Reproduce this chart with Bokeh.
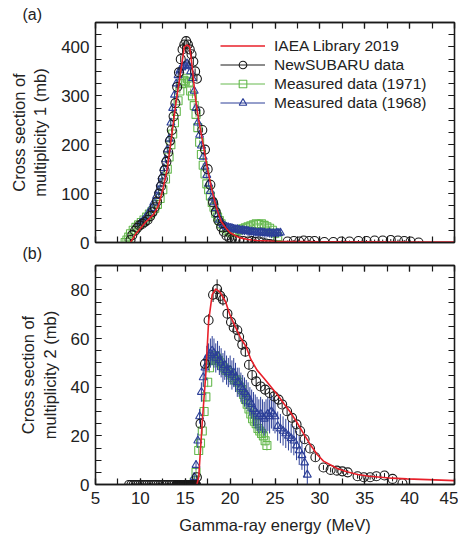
from bokeh.plotting import figure
from bokeh.models import LinearAxis, SingleIntervalTicker, Legend, LegendItem, Title
from bokeh.layouts import column
from bokeh.embed import file_html
from bokeh.resources import INLINE

FONT = "Liberation Sans"
RED = "#e8202a"
BLACK = "#1a1a1a"
GREEN = "#66b94f"
BLUE = "#2c3f98"

# ---------------- Panel (a): multiplicity 1 ----------------
E_iaea1 = [8.9, 9.5, 10.5, 11.5, 12.0, 12.5, 13.0, 13.5, 14.0, 14.5, 14.9, 15.2, 15.5, 15.8, 16.1,
           16.5, 17.0, 17.5, 18.0, 18.5, 19.0, 19.5, 20.0, 21.0, 22.0, 23.0, 25.0, 30.0, 35.0, 40.0, 45.0]
s_iaea1 = [0, 18, 40, 58, 75, 108, 151, 220, 290, 350, 400, 404, 400, 355, 300,
           250, 200, 148, 105, 70, 43, 30, 20, 10, 6, 4, 2.5, 1.5, 1.2, 1, 1]

E_ns1 = [8.9, 9.1, 9.4, 9.65, 9.9, 10.2, 10.5, 10.8, 11.1, 11.35, 11.6, 11.85, 12.1, 12.3, 12.5,
         12.7, 12.9, 13.1, 13.3, 13.5, 13.7, 13.9, 14.1, 14.3, 14.5, 14.7, 14.9, 15.1, 15.3, 15.5,
         15.7, 15.9, 16.1, 16.3, 16.6, 16.9, 17.2, 17.5, 17.8, 18.1, 18.4, 18.7, 19.0, 19.3, 19.6,
         19.9, 20.2, 20.6, 21.0, 21.5, 22.0, 22.4, 22.8, 23.2, 23.6, 24.0, 24.4, 24.8,
         26.4, 27.1, 27.7, 28.2, 28.8, 29.4, 30.5, 31.5, 32.4, 33.3, 34.3, 35.2, 36.1, 37.0, 37.9,
         38.7, 39.4, 40.1, 41.0]
s_ns1 = [5, 15, 24, 30, 35, 38, 42, 46, 54, 62, 72, 84, 100, 115, 130,
         148, 165, 185, 208, 230, 258, 285, 318, 348, 375, 395, 405, 412, 405, 395,
         385, 370, 350, 335, 268, 230, 190, 150, 118, 82, 62, 45, 32, 22, 14,
         10, 7, 5, 4, 3, 2, 3, 1, 2, 0, -2, -3, -4,
         2, 3, 2, 4, 3, 3, 1, 1, 2, 2, 3, 3, 4, 4, 5,
         4, 3, 2, 0]
e_ns1 = [2, 2, 2, 2, 2, 2, 2, 2, 2, 2, 3, 3, 3, 3, 4,
         4, 4, 5, 5, 5, 6, 6, 6, 7, 7, 8, 8, 10, 8, 8,
         7, 7, 6, 6, 6, 5, 5, 4, 4, 3, 3, 3, 2, 2, 2,
         2, 2, 2, 2, 2, 2, 2, 2, 2, 2, 2, 2, 2,
         2, 2, 2, 2, 2, 2, 2, 2, 2, 2, 2, 2, 2, 2, 2,
         2, 2, 2, 2]

E_m71_1 = [8.3, 8.5, 8.7, 8.9, 9.2, 9.5, 9.8, 10.1, 10.4, 10.7, 11.0, 11.3, 11.6, 11.9, 12.2,
           12.5, 12.8, 13.0, 13.2, 13.4, 13.6, 13.8, 14.0, 14.2, 14.4, 14.6, 14.8, 15.0, 15.2, 15.4,
           15.6, 15.8, 16.0, 16.2, 16.4, 16.6, 16.8, 17.0, 17.2, 17.4, 17.6, 17.8, 18.0, 18.2, 18.4,
           18.6, 18.8, 19.0, 19.3, 19.6, 19.9, 20.2, 20.5, 20.8, 21.1, 21.4, 21.7, 22.0, 22.3, 22.6,
           22.9, 23.2, 23.5, 23.8, 24.1, 24.4, 24.7, 25.0, 25.3]
s_m71_1 = [0, 5, 11, 18, 25, 31, 36, 41, 46, 52, 58, 64, 70, 78, 90,
           108, 130, 150, 175, 200, 222, 245, 268, 290, 310, 325, 332, 330, 336, 328,
           310, 300, 280, 262, 235, 205, 180, 158, 140, 120, 108, 95, 82, 72, 60,
           52, 45, 38, 30, 25, 22, 20, 22, 24, 26, 28, 30, 32, 34, 36,
           38, 37, 38, 35, 32, 29, 25, 19, 12]
e_m71_1 = [2, 2, 2, 2, 2, 2, 2, 2, 2, 2, 2, 2, 3, 3, 3,
           3, 3, 4, 4, 4, 4, 5, 5, 5, 5, 5, 5, 5, 5, 5,
           5, 5, 5, 5, 4, 4, 4, 4, 4, 3, 3, 3, 3, 3, 3,
           3, 3, 3, 3, 3, 3, 3, 3, 3, 3, 3, 3, 3, 3, 3,
           3, 3, 3, 3, 3, 3, 3, 3, 3]

E_m68_1 = [10.0, 10.3, 10.6, 10.9, 11.2, 11.5, 11.8, 12.0, 12.2, 12.4, 12.6, 12.8, 13.0, 13.2, 13.4,
           13.6, 13.8, 14.0, 14.2, 14.4, 14.6, 14.8, 15.0, 15.2, 15.4, 15.6, 15.8, 16.0, 16.2, 16.4,
           16.6, 16.8, 17.0, 17.2, 17.4, 17.6, 17.8, 18.0, 18.2, 18.4, 18.6, 18.8, 19.0, 19.2, 19.4,
           19.6, 19.8, 20.0, 20.2, 20.4, 20.6, 20.8, 21.0, 21.2, 21.4, 21.6, 21.8, 22.0, 22.2, 22.4,
           22.6, 22.8, 23.0, 23.2, 23.4, 23.6, 23.8, 24.0, 24.2, 24.4, 24.6, 24.8, 25.0, 25.2, 25.4,
           25.6]
s_m68_1 = [40, 45, 52, 60, 70, 82, 95, 106, 120, 135, 152, 170, 190, 212, 245,
           275, 302, 325, 342, 352, 358, 360, 362, 366, 362, 350, 336, 310, 275, 245,
           220, 198, 175, 155, 138, 120, 105, 92, 82, 70, 57, 46, 40, 36, 34,
           32, 31, 30, 29, 28, 27, 27, 26, 25, 25, 24, 24, 23, 22, 22,
           21, 21, 20, 20, 21, 20, 20, 19, 19, 20, 18, 19, 18, 20, 19,
           20]
e_m68_1 = [4, 4, 4, 4, 5, 5, 5, 6, 6, 6, 7, 7, 7, 8, 8,
           8, 9, 9, 9, 10, 10, 10, 10, 10, 10, 10, 9, 9, 9, 8,
           8, 8, 7, 7, 7, 6, 6, 6, 6, 6, 6, 7, 8, 9, 8,
           10, 9, 8, 10, 9, 8, 10, 9, 8, 10, 9, 8, 10, 9, 8,
           10, 9, 8, 10, 9, 8, 10, 9, 8, 10, 9, 8, 10, 9, 8,
           8]

# ---------------- Panel (b): multiplicity 2 ----------------
E_iaea2 = [16.3, 16.5, 16.9, 17.3, 17.6, 18.0, 18.4, 18.9, 19.5, 20.0, 20.6, 21.2, 21.8, 22.3, 23.0,
           23.75, 24.5, 25.25, 26.0, 26.7, 27.4, 28.2, 29.0, 29.7, 30.4, 31.2, 32.0, 33.0, 34.2, 35.5,
           36.8, 38.0, 39.7, 42.0, 45.0]
s_iaea2 = [0, 3, 26, 46, 67, 78, 80.4, 79, 75, 69.5, 64.7, 60, 56.5, 51.5, 47,
           43.8, 40.4, 37, 33.2, 29.8, 25.8, 20.8, 16, 12.3, 9.6, 8, 6.5, 5.2, 4.1, 3.4,
           3, 2.6, 2.3, 2.0, 1.6]

E_ns2_low = [8.7, 8.95, 9.2, 9.45, 9.7, 9.95, 10.2, 10.45, 10.7, 10.95, 11.2, 11.45, 11.7, 11.95,
             12.2, 12.45, 12.7, 12.95, 13.2, 13.45, 13.7, 13.95,
             14.0, 14.05, 14.1, 14.15, 14.2, 14.25, 14.3, 14.35, 14.4, 14.45, 14.5, 14.55, 14.6,
             14.65, 14.7, 14.75, 14.8, 14.85, 14.9, 14.95, 15.0, 15.05, 15.1, 15.15, 15.2, 15.25,
             15.3, 15.35, 15.4, 15.45, 15.5, 15.55, 15.6, 15.65, 15.7, 15.75, 15.8, 15.85, 15.9,
             15.95, 16.0, 16.05, 16.1, 16.15, 16.2, 16.25]
s_ns2_low = [0, 0, 0, 0, 0, 0, 0, 0, 0, 0, 0, 0, 0, 0, 0, 0, 0,
             0, 0, 0, 0, 0, 0, 0, 0, 0, 0, 0, 0, 0, 0, 0, 0, 0,
             0, 0, 0, 0, 0, 0, 0, 0, 0, 0, 0, 0, 0, 0, 0, 0, 0,
             0, 0, 0, 0, 0, 0, 0, 0, 0, 0, 0, 0, 0, 0, 0, 0, 0]

E_ns2 = [16.3, 16.7, 17.2, 17.6, 18.1, 18.55, 18.9, 19.2, 19.7, 20.1, 20.4, 20.8, 21.0, 21.35, 21.7,
         22.1, 22.45, 22.9, 23.4, 23.9, 24.4, 24.9, 25.4, 25.8, 26.35, 26.9, 27.4, 27.8, 28.3, 28.9,
         29.5, 30.4, 31.2, 31.9, 32.5, 33.1, 34.2, 34.9, 35.6, 36.3, 37.2, 38.1, 39.2]
s_ns2 = [3, 25, 49.6, 67.5, 78, 80.3, 77.5, 76, 70.2, 66.8, 64.5, 63.4, 60.7, 57.5, 54.6,
         49.2, 45, 42.4, 40.3, 39, 37.6, 36.2, 34.9, 32.9, 30.1, 27.4, 24.7, 22, 18.6, 14.8,
         11.2, 7, 6, 5.7, 5.4, 5, 3.4, 3, 3, 3.4, 3.7, 2.3, 0.5]
e_ns2 = [1, 1.5, 2, 2.5, 3, 4, 3, 2.5, 2, 2, 2, 2, 2, 2, 2,
         2, 2, 2, 1.5, 1.5, 1.5, 1.5, 1.5, 1.5, 1.5, 1.5, 1.5, 1.5, 1.5, 1.5,
         1.5, 1, 1, 1, 1, 1, 1, 1, 1, 1, 1, 1, 1]

E_m71_2 = [16.0, 16.2, 16.5, 16.7, 16.9, 17.1, 17.3, 17.5, 17.7, 17.9, 18.1, 18.3, 18.5, 18.7, 18.9,
           19.1, 19.3, 19.5, 19.7, 19.9, 20.1, 20.3, 20.5, 20.7, 20.9, 21.1, 21.3, 21.5, 21.7, 21.9,
           22.1, 22.3, 22.5, 22.7, 22.9, 23.1, 23.3, 23.5, 23.7, 23.9, 24.1]
s_m71_2 = [1, 5, 14, 17, 22, 30, 36, 42, 48, 51, 52, 53, 52, 51, 50,
           49, 48, 47, 47, 46, 45, 44, 43, 43, 42, 40, 39, 37, 35, 33,
           31, 29, 27, 26, 25, 23, 22, 21, 20, 18, 16]
e_m71_2 = [1, 1, 1.5, 1.5, 1.5, 2, 2, 2, 2, 2, 2, 2, 2, 2, 2,
           2, 2, 2, 2, 2, 2, 2, 2, 2, 2, 2, 2, 2, 2, 2,
           2, 2, 2, 2, 2, 2, 2, 2, 2, 2, 2]

E_m68_2 = [16.0, 16.2, 16.4, 16.6, 16.8, 17.0, 17.2, 17.4, 17.6, 17.8, 18.0, 18.2, 18.4, 18.6, 18.8,
           19.0, 19.2, 19.4, 19.6, 19.8, 20.0, 20.2, 20.4, 20.6, 20.8, 21.0, 21.2, 21.4, 21.6, 21.8,
           22.0, 22.2, 22.4, 22.6, 22.8, 23.0, 23.2, 23.4, 23.6, 23.8, 24.0, 24.2, 24.4, 24.6, 24.8,
           25.0, 25.3, 25.6, 25.9, 26.2, 26.5, 26.8, 27.1, 27.4, 27.7, 28.0, 28.3, 28.6]
s_m68_2 = [3, 8, 18, 28, 38, 44, 48, 52, 53, 54, 55, 54, 52, 53, 51,
           50, 48, 49, 47, 46, 47, 45, 46, 44, 42, 42, 40, 39, 38, 37,
           36, 34, 33, 31, 30, 29, 28, 29, 28, 27, 28, 29, 28, 30, 29,
           28, 24, 23, 22, 21, 20, 19, 18, 16, 14, 12, 9, 4]
e_m68_2 = [2, 2, 3, 3, 4, 4, 5, 5, 5, 6, 6, 6, 6, 6, 6,
           6, 6, 6, 6, 6, 6, 6, 6, 6, 6, 6, 6, 6, 6, 6,
           6, 6, 6, 7, 7, 7, 7, 7, 7, 7, 7, 7, 7, 7, 7,
           7, 6, 6, 6, 6, 6, 6, 6, 6, 6, 6, 6, 5]

LEGEND_LABELS = ["IAEA Library 2019", "NewSUBARU data", "Measured data (1971)", "Measured data (1968)"]
X_RANGE = (5, 45)


def style_axis(ax, show_labels):
    ax.major_tick_in = 6
    ax.major_tick_out = 0
    ax.minor_tick_in = 6
    ax.minor_tick_out = 0
    ax.axis_line_color = BLACK
    ax.axis_line_width = 1.3
    ax.major_tick_line_color = BLACK
    ax.major_tick_line_width = 1.2
    ax.minor_tick_line_color = BLACK
    ax.minor_tick_line_width = 1.2
    ax.major_label_text_font = FONT
    ax.axis_label_text_font = FONT
    ax.axis_label_text_font_style = "normal"
    ax.axis_label_text_color = "#222222"
    ax.major_label_text_font_size = "17px"
    ax.axis_label_text_font_size = "16.5px"
    if show_labels:
        ax.major_label_text_color = "#222222"
    else:
        ax.major_label_text_color = None
        ax.major_label_standoff = 0


def make_panel(y_max, y_int, frame_h, border_top, border_bottom, ylabel, show_x):
    p = figure(x_range=X_RANGE, y_range=(0, y_max), frame_width=359, frame_height=frame_h,
               min_border_left=95, min_border_right=4, min_border_top=border_top,
               min_border_bottom=border_bottom, output_backend="svg", toolbar_location=None)
    p.grid.visible = False
    p.outline_line_color = BLACK
    p.outline_line_width = 1.3
    p.background_fill_color = "white"
    p.border_fill_color = "white"
    p.xaxis.ticker = SingleIntervalTicker(interval=5, num_minor_ticks=2)
    p.yaxis.ticker = SingleIntervalTicker(interval=y_int, num_minor_ticks=4)
    for ax in p.xaxis:
        style_axis(ax, show_x)
    if show_x:
        p.xaxis.major_label_standoff = 7
        p.xaxis.axis_label_standoff = 9
        p.xaxis.axis_label = "Gamma-ray energy (MeV)"
    for ax in p.yaxis:
        style_axis(ax, True)
    p.yaxis.major_label_standoff = 6
    p.yaxis.axis_label_standoff = 9
    p.yaxis.axis_label = ylabel
    top = LinearAxis(ticker=SingleIntervalTicker(interval=5, num_minor_ticks=2))
    style_axis(top, False)
    p.add_layout(top, "above")
    right = LinearAxis(ticker=SingleIntervalTicker(interval=y_int, num_minor_ticks=4))
    style_axis(right, False)
    p.add_layout(right, "right")
    return p


def panel_tag(text):
    return Title(text=text, align="left", offset=-73, standoff=0, text_font=FONT,
                 text_font_size="16px", text_font_style="normal", text_color="#222222",
                 vertical_align="bottom")


def errbars(p, E, s, e, color, width=1.0):
    lo = [a - b for a, b in zip(s, e)]
    hi = [a + b for a, b in zip(s, e)]
    return p.segment(x0=E, y0=lo, x1=E, y1=hi, line_color=color, line_width=width)


# ---- panel (a)
p1 = make_panel(450, 100, 220, 22, 21, "Cross section of\nmultiplicity 1 (mb)", False)

eg1 = errbars(p1, E_m71_1, s_m71_1, e_m71_1, GREEN, 1.0)
mg1 = p1.scatter(E_m71_1, s_m71_1, marker="square", size=8, fill_color=None,
                 line_color=GREEN, line_width=1.1)
eb1 = errbars(p1, E_m68_1, s_m68_1, e_m68_1, BLUE, 1.0)
mb1 = p1.scatter(E_m68_1, s_m68_1, marker="triangle", size=8, fill_color=None,
                 line_color=BLUE, line_width=1.1)
ek1 = errbars(p1, E_ns1, s_ns1, e_ns1, BLACK, 1.0)
mk1 = p1.scatter(E_ns1, s_ns1, marker="circle", size=9, fill_color=None,
                 line_color=BLACK, line_width=1.1)
r_r1 = p1.line(E_iaea1, s_iaea1, line_color=RED, line_width=1.6)

legend = Legend(items=[
    LegendItem(label=LEGEND_LABELS[0], renderers=[r_r1]),
    LegendItem(label=LEGEND_LABELS[1], renderers=[ek1, mk1]),
    LegendItem(label=LEGEND_LABELS[2], renderers=[eg1, mg1]),
    LegendItem(label=LEGEND_LABELS[3], renderers=[eb1, mb1]),
], location=(125, 130), padding=0, margin=0, spacing=0, glyph_width=45, glyph_height=19,
    label_height=19, label_standoff=9, label_text_font=FONT, label_text_font_size="15.5px",
    label_text_color="#222222", border_line_color=None, background_fill_alpha=0)
p1.add_layout(legend)

p1.add_layout(panel_tag("(a)"), "above")
p1.add_layout(panel_tag("(b)"), "below")

# ---- panel (b)
p2 = make_panel(90, 20, 219, 2, 50, "Cross section of\nmultiplicity 2 (mb)", True)

errbars(p2, E_m71_2, s_m71_2, e_m71_2, GREEN, 1.0)
p2.scatter(E_m71_2, s_m71_2, marker="square", size=8, fill_color=None,
           line_color=GREEN, line_width=1.1)
errbars(p2, E_m68_2, s_m68_2, e_m68_2, BLUE, 1.0)
p2.scatter(E_m68_2, s_m68_2, marker="triangle", size=8, fill_color=None,
           line_color=BLUE, line_width=1.1)
p2.scatter(E_ns2_low, s_ns2_low, marker="circle", size=8, fill_color=None,
           line_color=BLACK, line_width=1.1)
errbars(p2, E_ns2, s_ns2, e_ns2, BLACK, 1.0)
p2.scatter(E_ns2, s_ns2, marker="circle", size=9, fill_color=None,
           line_color=BLACK, line_width=1.1)
p2.line(E_iaea2, s_iaea2, line_color=RED, line_width=1.6)

layout = column(p1, p2, spacing=0)
open("out.html", "w").write(file_html(layout, INLINE))
